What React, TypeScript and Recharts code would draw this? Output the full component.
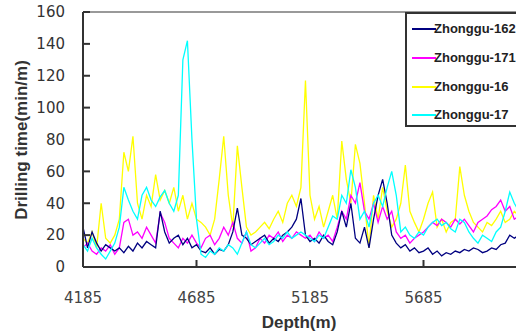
import React from "react";
import { LineChart, Line, XAxis, YAxis, Legend, ReferenceLine, Label } from "recharts";

// depth samples every 20 m
const depths = [
  4185, 4205, 4225, 4245, 4265, 4285, 4305, 4325, 4345, 4365,
  4385, 4405, 4425, 4445, 4465, 4485, 4505, 4525, 4545, 4565,
  4585, 4605, 4625, 4645, 4665, 4685, 4705, 4725, 4745, 4765,
  4785, 4805, 4825, 4845, 4865, 4885, 4905, 4925, 4945, 4965,
  4985, 5005, 5025, 5045, 5065, 5085, 5105, 5125, 5145, 5165,
  5185, 5205, 5225, 5245, 5265, 5285, 5305, 5325, 5345, 5365,
  5385, 5405, 5425, 5445, 5465, 5485, 5505, 5525, 5545, 5565,
  5585, 5605, 5625, 5645, 5665, 5685, 5705, 5725, 5745, 5765,
  5785, 5805, 5825, 5845, 5865, 5885, 5905, 5925, 5945, 5965,
  5985, 6005, 6025, 6045, 6065, 6085, 6105, 6125, 6145, 6165,
  6185,
];

const zg162 = [
  25, 12, 22, 15, 10, 14, 12, 10, 12, 9,
  13, 10, 15, 12, 16, 14, 12, 35, 22, 15,
  18, 20, 14, 18, 12, 14, 10, 9, 12, 8,
  11, 10, 14, 22, 37, 20, 18, 14, 16, 18,
  20, 15, 18, 16, 20, 22, 25, 30, 43, 20,
  16, 18, 15, 20, 16, 14, 22, 35, 25, 40,
  18, 15, 25, 12, 30, 45, 55, 40, 20, 15,
  12, 14, 10, 12, 9, 10, 12, 8, 10, 7,
  9, 8, 10, 9, 11, 10, 12, 11, 9, 10,
  12, 11, 14, 15, 20, 18, 20, 22, 18, 20,
  22,
];

const zg171 = [
  12, 15, 10, 8, 12, 10, 14, 8, 12, 28,
  30, 20, 22, 18, 25, 20, 15, 34, 28, 18,
  15, 12, 18, 15, 20, 15, 12, 18, 20, 14,
  18, 25, 20, 28, 18, 15, 22, 10, 12, 18,
  15, 20, 18, 22, 16, 20, 18, 22, 20, 18,
  20, 16, 22, 18, 20, 16, 25, 35, 30, 45,
  40, 53, 35, 30, 40, 28, 38, 30, 35, 22,
  18, 20, 15, 18, 20, 22, 25, 28, 26, 30,
  28, 25, 30, 27, 30, 26, 22, 28, 30, 32,
  36, 38, 42, 35, 38, 30, 32, 35, 33, 30,
  32,
];

const zg16 = [
  18, 15, 22, 12, 40, 18, 15, 20, 30, 72,
  60, 82, 40, 30, 45, 38, 58, 42, 48, 40,
  50, 35, 45, 30, 40, 30, 28, 25, 20, 30,
  55, 82, 45, 25, 76, 50, 25, 20, 22, 25,
  28, 24, 30, 35, 28, 40, 45, 38, 50, 117,
  45, 30, 38, 25, 35, 45, 30, 79, 55, 40,
  77, 65, 40, 12, 45, 30, 50, 35, 25, 30,
  40, 64, 35, 28, 22, 30, 40, 47, 25, 30,
  22, 28, 30, 63, 45, 35, 28, 25, 22, 28,
  26, 30, 35, 28, 30, 35, 32, 30, 28, 30,
  32,
];

const zg17 = [
  14, 10, 18, 12, 8, 5, 10, 15, 25, 50,
  42, 35, 30, 45, 50, 42, 38, 44, 48, 40,
  35, 45, 130, 142, 80, 30, 8, 6, 10, 8,
  12, 10, 14, 12, 8, 15, 22, 14, 12, 15,
  18, 14, 16, 20, 18, 22, 18, 20, 22, 20,
  18, 16, 20, 18, 25, 32, 30, 45, 40, 61,
  50, 30, 35, 25, 40, 45, 38, 50, 60, 45,
  22, 25, 20, 18, 22, 20, 25, 28, 30, 26,
  28, 24, 22, 30, 28, 22, 18, 15, 20, 18,
  16, 22, 25, 35, 47, 40, 35, 38, 30, 32,
  35,
];

const seriesNames = ["Zhonggu-162", "Zhonggu-171", "Zhonggu-16", "Zhonggu-17"];
const xTicks = [4185, 4685, 5185, 5685];
const yTicks = [0, 20, 40, 60, 80, 100, 120, 140, 160];

const chartData = depths.map((depth, i) => ({
  depth,
  "Zhonggu-162": zg162[i],
  "Zhonggu-171": zg171[i],
  "Zhonggu-16": zg16[i],
  "Zhonggu-17": zg17[i],
}));

const renderLegend = (props: any) => {
  const items = [...(props.payload || [])].sort(
    (a: any, b: any) => seriesNames.indexOf(a.value) - seriesNames.indexOf(b.value)
  );
  return (
    <div
      style={{
        border: "2px solid #333",
        background: "#fff",
        width: 150,
        height: 115,
        boxSizing: "border-box",
        paddingTop: 1,
      }}
    >
      {items.map((entry: any) => (
        <div key={entry.value} style={{ display: "flex", alignItems: "center", height: 28.7 }}>
          <span style={{ display: "inline-block", width: 24, height: 2, background: entry.color, marginLeft: 5 }} />
          <span
            style={{
              fontFamily: "'Liberation Sans', Arial, sans-serif",
              fontWeight: "bold",
              fontSize: 13,
              color: "#222",
              marginLeft: -2,
              lineHeight: "14px",
            }}
          >
            {entry.value}
          </span>
        </div>
      ))}
    </div>
  );
};

export default function App() {
  return (
    <div style={{ position: "absolute", left: 0, top: 0, width: 516, height: 336, overflow: "hidden", background: "#fff" }}>
      <LineChart width={560} height={336} data={chartData} margin={{ top: 12, right: 23, bottom: 19, left: 23 }}>
        <XAxis
          dataKey="depth"
          type="number"
          domain={[4185, 6185]}
          ticks={xTicks}
          height={50}
          tickSize={-7}
          tickMargin={32}
          axisLine={{ stroke: "#333", strokeWidth: 2 }}
          tickLine={{ stroke: "#333", strokeWidth: 2 }}
          tick={{ fill: "#444", fontSize: 15, fontFamily: "DejaVu Sans" }}
        >
          <Label
            content={() => (
              <text
                x={299}
                y={328}
                textAnchor="middle"
                fill="#333"
                fontSize={17}
                fontWeight="bold"
                fontFamily="'Liberation Sans', Arial, sans-serif"
              >
                Depth(m)
              </text>
            )}
          />
        </XAxis>
        <YAxis
          type="number"
          domain={[0, 160]}
          ticks={yTicks}
          width={60}
          tickSize={-7}
          tickMargin={25}
          axisLine={{ stroke: "#333", strokeWidth: 2 }}
          tickLine={{ stroke: "#333", strokeWidth: 2 }}
          tick={{ fill: "#333", fontSize: 15, fontFamily: "DejaVu Sans" }}
        >
          <Label
            content={() => (
              <text
                x={27}
                y={140}
                transform="rotate(-90 27 140)"
                textAnchor="middle"
                fill="#333"
                fontSize={17}
                fontWeight="bold"
                fontFamily="'Liberation Sans', Arial, sans-serif"
              >
                Drilling time(min/m)
              </text>
            )}
          />
        </YAxis>
        <ReferenceLine y={160} stroke="#777" strokeWidth={1.5} />
        <Legend
          layout="horizontal"
          align="center"
          verticalAlign="middle"
          content={renderLegend}
          wrapperStyle={{ left: 405, top: 12, width: 150 }}
        />
        <Line type="linear" dataKey="Zhonggu-16" stroke="#ffff00" strokeWidth={1.3} dot={false} isAnimationActive={false} />
        <Line type="linear" dataKey="Zhonggu-171" stroke="#ff00ff" strokeWidth={1.3} dot={false} isAnimationActive={false} />
        <Line type="linear" dataKey="Zhonggu-162" stroke="#000080" strokeWidth={1.3} dot={false} isAnimationActive={false} />
        <Line type="linear" dataKey="Zhonggu-17" stroke="#00ffff" strokeWidth={1.3} dot={false} isAnimationActive={false} />
      </LineChart>
    </div>
  );
}
